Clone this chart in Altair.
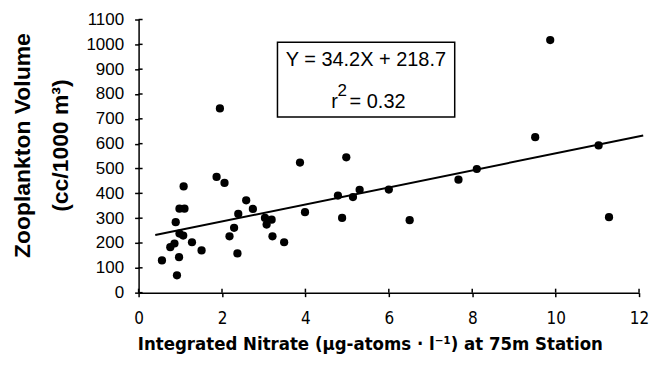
import altair as alt
import pandas as pd

# Integrated nitrate (x) and zooplankton volume (y)
nitrate = [0.56, 0.92, 0.97, 0.76, 0.86, 0.98, 1.07, 0.89, 0.98, 1.10, 1.08,
           1.28, 1.51, 1.87, 2.06, 1.95, 2.18, 2.29, 2.37, 2.39, 2.58, 2.74,
           3.03, 3.19, 3.07, 3.21, 3.49, 3.87, 3.99, 4.78, 4.88, 4.98, 5.14,
           5.30, 6.00, 6.50, 7.67, 8.11, 9.51, 9.87, 11.03, 11.28]
zooplankton = [130, 70, 143, 183, 198, 238, 230, 284, 338, 338, 428,
               203, 170, 466, 442, 742, 227, 261, 158, 317, 372, 337,
               301, 294, 274, 227, 203, 524, 324, 391, 301, 545, 385,
               414, 415, 292, 455, 498, 626, 1017, 593, 304]

# regression line ends (Y = 34.2X + 218.7)
fit_x = [0.4, 12.1]
fit_y = [232, 633]

x_ticks = [0, 2, 4, 6, 8, 10, 12]
y_ticks = [0, 100, 200, 300, 400, 500, 600, 700, 800, 900, 1000, 1100]

# annotation box and its text
box_x, box_x2 = [3.33], [7.58]
box_y, box_y2 = [707], [1008]
eq_text = ["Y = 34.2X + 218.7"]
eq_x = [5.45]
eq_y = [911]
r2_text = ["r", "= 0.32"]
r2_x = [4.62, 5.06]
r2_y = [743, 743]
sup_text = ["2"]
sup_x = [4.77]
sup_y = [790]

W, H = 502, 274
xs = alt.Scale(domain=[0, 12], nice=False, zero=False)
ys = alt.Scale(domain=[0, 1100], nice=False, zero=False)

NARROW = "DejaVu Sans Condensed, Liberation Sans Narrow, Arial Narrow, Liberation Sans, sans-serif"

xaxis = alt.Axis(
    values=x_ticks, grid=False, domainColor="black", domainWidth=1.5,
    tickColor="black", tickWidth=1.5, tickSize=4,
    labelFont=NARROW, labelFontSize=17, labelColor="black",
    labelPadding=14, labelFlush=False, format="d",
    title="Integrated Nitrate (\u00b5g-atoms \u00b7 l\u207b\u00b9) at 75m Station",
    titleFont=NARROW, titleFontSize=18.5, titleFontWeight="bold",
    titleColor="black", titleX=232, titleY=57, titleAlign="center",
    titleBaseline="alphabetic")
yaxis = alt.Axis(
    values=y_ticks, grid=False, domainColor="black", domainWidth=1.5,
    tickColor="black", tickWidth=1.5, tickSize=4,
    labelFont="Liberation Sans", labelFontSize=17, labelColor="black",
    labelPadding=11, labelFlush=False, format="d",
    title=["Zooplankton Volume", "(cc/1000 m\u00b3)"],
    titleFont="Liberation Sans", titleFontSize=23, titleFontWeight="bold",
    titleColor="black", titleX=-109, titleY=126, titleAngle=270,
    titleAlign="center", titleBaseline="alphabetic", titleLineHeight=38)


def X(f):
    return alt.X(f, scale=xs, axis=xaxis)


def Y(f):
    return alt.Y(f, scale=ys, axis=yaxis)


pts = pd.DataFrame({"x": nitrate, "y": zooplankton})
points = alt.Chart(pts).mark_circle(size=68, color="black", opacity=1).encode(
    x=X("x:Q"), y=Y("y:Q"))

fit = alt.Chart(pd.DataFrame({"x": fit_x, "y": fit_y})).mark_line(
    color="black", strokeWidth=2, clip=False).encode(x=X("x:Q"), y=Y("y:Q"))

box = alt.Chart(pd.DataFrame({"x": box_x, "x2": box_x2, "y": box_y, "y2": box_y2})).mark_rect(
    fill=None, stroke="black", strokeWidth=1.5).encode(
    x=X("x:Q"), x2="x2:Q", y=Y("y:Q"), y2="y2:Q")

eq = alt.Chart(pd.DataFrame({"x": eq_x, "y": eq_y, "t": eq_text})).mark_text(
    font="Liberation Sans", fontSize=20, color="black", align="center",
    baseline="alphabetic").encode(x=X("x:Q"), y=Y("y:Q"), text="t:N")

r2 = alt.Chart(pd.DataFrame({"x": r2_x, "y": r2_y, "t": r2_text})).mark_text(
    font="Liberation Sans", fontSize=20, color="black", align="left",
    baseline="alphabetic").encode(x=X("x:Q"), y=Y("y:Q"), text="t:N")

sup = alt.Chart(pd.DataFrame({"x": sup_x, "y": sup_y, "t": sup_text})).mark_text(
    font="Liberation Sans", fontSize=17, color="black", align="left",
    baseline="alphabetic").encode(x=X("x:Q"), y=Y("y:Q"), text="t:N")

ytick_in = alt.Chart(pd.DataFrame({"y": y_ticks})).mark_rule(color="black", strokeWidth=1.5).encode(
    y=Y("y:Q"), x=alt.value(0), x2=alt.value(4))
xtick_in = alt.Chart(pd.DataFrame({"x": x_ticks})).mark_rule(color="black", strokeWidth=1.5).encode(
    x=X("x:Q"), y=alt.value(H), y2=alt.value(H - 4))

chart = alt.layer(points, fit, box, eq, r2, sup, ytick_in, xtick_in).properties(
    width=W, height=H,
    padding={"left": 131, "top": 11, "right": 14, "bottom": 66},
    autosize=alt.AutoSizeParams(type="none"),
    background="white",
).configure_view(stroke=None)

chart.save("out.html", embed_options={"renderer": "svg", "actions": False})
